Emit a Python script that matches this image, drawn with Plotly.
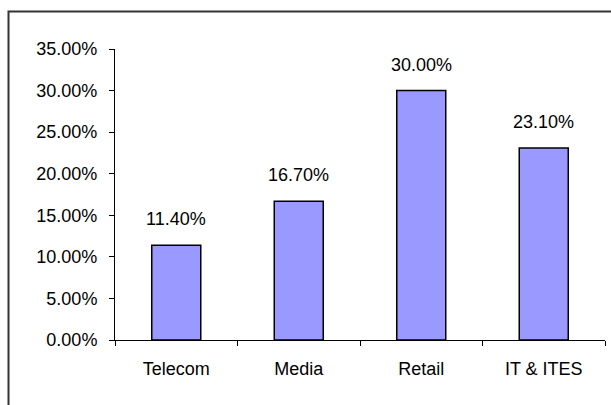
import plotly.graph_objects as go

categories = ["Telecom", "Media", "Retail", "IT & ITES"]
values = [0.114, 0.167, 0.300, 0.231]
label_texts = ["11.40%", "16.70%", "30.00%", "23.10%"]

W, H = 611, 405
L, R, T, B = 115, 6, 49, 65
pw, ph = W - L - R, H - T - B

def px_x(p):
    return (p - L) / pw

def px_y(p):
    return (H - B - p) / ph

FS = 18
FONT = "Liberation Sans, Arial"

fig = go.Figure()
fig.add_trace(go.Bar(
    x=categories, y=values, width=0.4,
    marker=dict(color="#9999FF", line=dict(color="black", width=1.5)),
    hoverinfo="skip",
))

for c, v, t in zip(categories, values, label_texts):
    fig.add_annotation(x=c, y=v, text=t, showarrow=False, yanchor="bottom",
                       yshift=14, font=dict(family=FONT, size=FS, color="black"))

fig.add_shape(type="rect", xref="paper", yref="paper",
              x0=px_x(8.5), x1=px_x(620), y0=px_y(420), y1=px_y(11.5),
              line=dict(color="#333333", width=2), layer="below")

fig.update_layout(
    width=W, height=H,
    margin=dict(l=L, r=R, t=T, b=B, pad=0),
    paper_bgcolor="white", plot_bgcolor="white",
    showlegend=False,
    font=dict(family=FONT, size=FS, color="black"),
)
fig.update_xaxes(
    showline=True, linecolor="black", linewidth=1,
    ticks="outside", ticklen=5, tickcolor="black", tickson="boundaries",
    showgrid=False, tickfont=dict(size=FS), ticklabelstandoff=12,
)
fig.update_yaxes(
    range=[0, 0.35], dtick=0.05, tickformat=".2%",
    showline=True, linecolor="black", linewidth=1,
    ticks="outside", ticklen=5, tickcolor="black",
    showgrid=False, zeroline=False, tickfont=dict(size=FS), ticklabelstandoff=8,
)

fig.write_html("out.html")
